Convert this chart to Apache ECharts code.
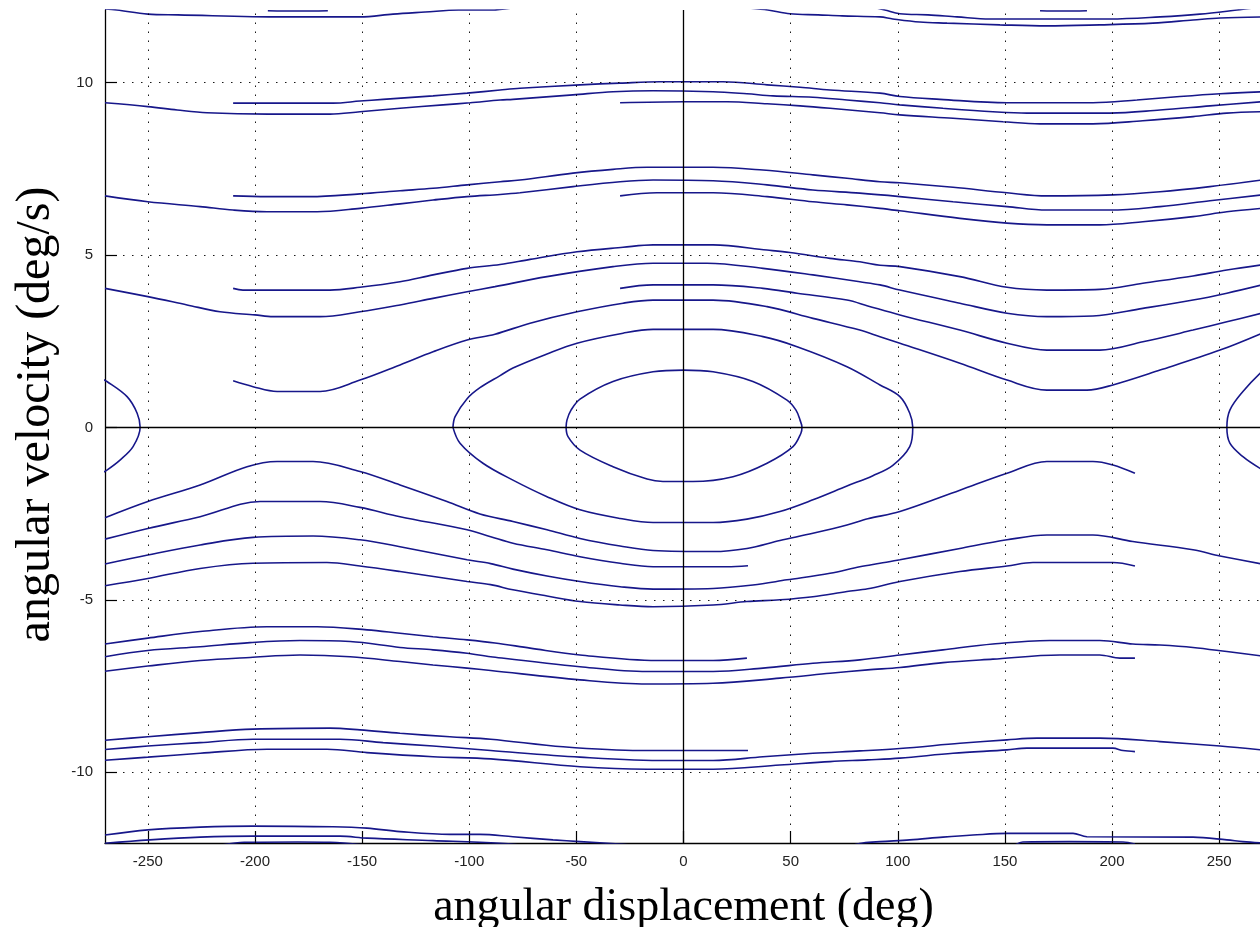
<!DOCTYPE html>
<html>
<head>
<meta charset="utf-8">
<script src="https://cdn.jsdelivr.net/npm/echarts@6/dist/echarts.min.js"></script>
<style>
  html, body { margin: 0; padding: 0; background: #ffffff; }
  #chart { width: 1260px; height: 927px; }
</style>
</head>
<body>
<div id="chart"></div>
<script>
// Pendulum phase portrait: angular displacement (deg) vs angular velocity (deg/s)
const xTicks = [-250, -200, -150, -100, -50, 0, 50, 100, 150, 200, 250];
const yTicks = [-10, -5, 0, 5, 10];

// Rotating trajectories near the top edge
const topEdgeA = [[-270,12.13],[-264.4,12.10],[-250,11.98],[-236,11.96],[-187,11.90],[-151,11.90],[-135.6,11.98],[-120.6,12.04],[-105,12.10],[-89.4,12.10],[-80,12.16]];
const topEdgeB = [[-194,12.08],[-180,12.07],[-166,12.08]];
const topEdgeC = [[30,12.16],[39.4,12.10],[49.7,11.99],[62.8,11.96],[74,11.93],[91.7,11.90],[97.7,11.84],[110.3,11.75],[123,11.72],[147.7,11.67],[169.6,11.64],[194.3,11.67],[219.1,11.72],[237.8,11.81],[250.4,11.87],[270,11.90]];
const topEdgeD = [[90,12.16],[94,12.10],[101,11.99],[114.1,11.96],[127.6,11.90],[143,11.84],[160.3,11.84],[199,11.84],[222.4,11.90],[241,11.98],[258.3,12.10],[266,12.16]];
const topEdgeE = [[166.4,12.08],[177,12.07],[188.3,12.08]];

// Rotating trajectories around +9.5 deg/s
const rot9a = [[-270,9.41],[-250,9.30],[-236.3,9.20],[-222.4,9.12],[-193.9,9.08],[-165,9.08],[-151,9.15],[-132.3,9.25],[-112.2,9.35],[-99.6,9.41],[-85.6,9.49],[-79.6,9.51],[-51.6,9.64],[-32.9,9.73],[-14.2,9.76],[13.8,9.73],[29.6,9.67],[41.8,9.61],[60.4,9.57],[76.3,9.49],[91.7,9.41],[101,9.35],[121.1,9.25],[144.4,9.15],[160.3,9.11],[199,9.11],[222.4,9.20],[245.7,9.32],[270,9.44]];
const rot9b = [[-210.2,9.40],[-163.6,9.40],[-151,9.46],[-140.2,9.51],[-116.9,9.61],[-101,9.69],[-85.6,9.78],[-76.3,9.83],[-48.3,9.93],[-29.6,9.98],[-10.9,10.02],[18.4,10.02],[39,9.93],[54.4,9.86],[68.4,9.78],[91.7,9.69],[101,9.59],[119.7,9.51],[151,9.41],[191.1,9.41],[211.6,9.49],[231.7,9.59],[250.4,9.67],[270,9.73]];
const rot9c = [[-29.6,9.41],[0,9.44],[20.3,9.44],[39,9.38],[54.4,9.32],[68.4,9.25],[91.7,9.12],[101,9.06],[125.8,8.96],[149.1,8.86],[166.4,8.80],[191.1,8.80],[214.4,8.89],[237.8,9.01],[253.6,9.11],[270,9.15]];

// Rotating trajectories around +7 deg/s
const rot7a = [[-270,6.71],[-250,6.54],[-225.6,6.40],[-210.2,6.30],[-194.4,6.25],[-171,6.25],[-151,6.35],[-132.3,6.48],[-116.9,6.59],[-101,6.69],[-85.6,6.75],[-76.3,6.80],[-51.6,6.98],[-29.6,7.12],[-14.2,7.17],[13.8,7.15],[39,7.03],[60.4,6.88],[82.3,6.79],[101,6.69],[125.8,6.54],[151,6.40],[169.6,6.30],[199,6.30],[222.4,6.40],[245.7,6.57],[270,6.74]];
const rot7b = [[-210.2,6.71],[-194.4,6.69],[-174.3,6.69],[-151,6.77],[-132.3,6.86],[-116.9,6.93],[-101,7.03],[-85.6,7.12],[-76.3,7.17],[-51.6,7.37],[-32.9,7.48],[-17,7.54],[13.8,7.54],[37.1,7.46],[60.4,7.32],[76.3,7.22],[91.7,7.12],[101,7.09],[125.8,6.96],[151,6.80],[169.6,6.71],[200.4,6.74],[222.4,6.83],[245.7,6.98],[270,7.17]];
const rot7c = [[-29.6,6.71],[-12.4,6.80],[13.8,6.80],[39,6.69],[60.4,6.54],[76.3,6.45],[91.7,6.35],[101,6.28],[129,6.06],[151,5.92],[169.6,5.87],[194.3,5.87],[214.4,5.96],[237.8,6.11],[253.6,6.25],[270,6.35]];

// Rotating trajectories between +1 and +5.3 deg/s
const rot4a = [[-210.2,4.03],[-205.6,3.98],[-165,3.98],[-151,4.06],[-132.3,4.22],[-116.9,4.42],[-101,4.61],[-85.6,4.72],[-71.6,4.87],[-49.7,5.09],[-28.2,5.22],[-14.2,5.29],[13.8,5.29],[39,5.14],[49.7,5.07],[68.4,4.90],[82.3,4.80],[91.7,4.70],[101,4.66],[129,4.37],[151,4.06],[169.6,3.98],[194.3,4.00],[214.4,4.18],[237.8,4.39],[253.6,4.56],[270,4.71]];
const rot4b = [[-270,4.03],[-250,3.79],[-231.7,3.55],[-216.3,3.35],[-200,3.26],[-191.6,3.21],[-169.6,3.21],[-151,3.35],[-132.3,3.55],[-116.9,3.74],[-101,3.93],[-88,4.08],[-63.7,4.37],[-32.9,4.66],[-14.2,4.76],[11,4.76],[37.1,4.61],[60.4,4.42],[82.3,4.22],[91.7,4.13],[101,3.98],[129,3.60],[151,3.31],[169.6,3.21],[191.1,3.23],[214.4,3.45],[237.8,3.69],[253.6,3.89],[270,4.13]];
const rot4c = [[-29.6,4.03],[-14.2,4.13],[13.8,4.13],[37.1,4.03],[53,3.89],[76.3,3.69],[86,3.52],[101,3.26],[129,2.82],[151,2.44],[169.6,2.24],[194.3,2.24],[214.4,2.48],[237.8,2.82],[253.6,3.06],[270,3.31]];
const rot4d = [[-210.2,1.35],[-200.9,1.18],[-189.7,1.04],[-169.6,1.04],[-151,1.37],[-132.3,1.81],[-116.9,2.19],[-101,2.53],[-88,2.70],[-71.6,3.02],[-49.7,3.35],[-28.2,3.60],[-14.2,3.69],[13.8,3.69],[39,3.50],[60.4,3.16],[82.3,2.82],[91.7,2.63],[101,2.44],[129,1.86],[151,1.37],[169.6,1.08],[188.3,1.08],[200.4,1.23],[222.4,1.66],[250.4,2.24],[270,2.73]];

// Closed (libration) orbits
const orbitInner = [[-54.8,0],[-54.4,0.21],[-52.5,0.50],[-48.3,0.82],[-32.9,1.33],[-14.2,1.61],[0,1.66],[13.8,1.61],[32.4,1.33],[48.3,0.79],[52.5,0.50],[54.4,0.21],[55.3,0],[54.8,-0.17],[51.1,-0.56],[39,-1.04],[23.1,-1.43],[4.4,-1.57],[-9.6,-1.57],[-17,-1.50],[-32.9,-1.14],[-48.3,-0.66],[-53.9,-0.27],[-54.8,0]];
const orbitOuter = [[-107.6,0],[-106.6,0.31],[-101,0.83],[-95,1.15],[-85.6,1.50],[-79.6,1.72],[-64,2.12],[-49.7,2.44],[-28.2,2.73],[-14.2,2.84],[13.8,2.84],[37.1,2.63],[53,2.34],[76.3,1.76],[91.7,1.23],[101,0.89],[105.6,0.41],[107,0],[105.6,-0.56],[97.7,-1.10],[88.4,-1.40],[76.3,-1.70],[60.4,-2.10],[45,-2.44],[29.6,-2.66],[13.8,-2.76],[-14.2,-2.76],[-29.6,-2.64],[-48.3,-2.39],[-63.7,-2.01],[-79.6,-1.53],[-93.6,-1.04],[-104.3,-0.46],[-107.6,0]];
const orbitLeft = [[-272,1.42],[-269.1,1.33],[-259.7,0.89],[-255,0.41],[-253.6,0],[-256.9,-0.56],[-263,-0.95],[-269.1,-1.24],[-272,-1.34]];
const orbitRight = [[272,1.68],[269.1,1.57],[261.1,1.04],[255,0.50],[253.6,0],[255,-0.46],[261.1,-0.85],[269.1,-1.19],[272,-1.26]];

// Rotating trajectories between -1 and -5.2 deg/s
const rotN3a = [[-270,-2.62],[-250,-2.15],[-225.6,-1.67],[-203.7,-1.14],[-189.7,-0.99],[-172.9,-0.99],[-151,-1.28],[-132.3,-1.67],[-110.4,-2.15],[-95,-2.51],[-79.6,-2.73],[-63.7,-2.97],[-48.3,-3.22],[-29.6,-3.44],[-14.2,-3.57],[13.8,-3.60],[29.6,-3.51],[45,-3.28],[60.4,-3.07],[76.3,-2.83],[86,-2.65],[101,-2.44],[129,-1.82],[151,-1.33],[169.6,-0.99],[191.1,-0.99],[200.4,-1.09],[210.7,-1.33]];
const rotN3b = [[-270,-3.24],[-250,-2.93],[-225.6,-2.59],[-197.6,-2.15],[-169.6,-2.15],[-151,-2.32],[-132.3,-2.59],[-101,-2.97],[-90,-3.17],[-79.6,-3.36],[-63.7,-3.55],[-48.3,-3.75],[-29.6,-3.94],[-14.2,-4.04],[20.3,-4.04],[30.1,-4.01]];
const rotN3c = [[-270,-3.96],[-250,-3.70],[-225.6,-3.41],[-200.9,-3.19],[-172.9,-3.15],[-151,-3.26],[-132.3,-3.46],[-101,-3.84],[-90,-3.95],[-79.6,-4.11],[-63.7,-4.31],[-48.3,-4.47],[-29.6,-4.62],[-14.2,-4.69],[13.8,-4.67],[32.4,-4.57],[48.3,-4.42],[68.4,-4.23],[82.3,-4.04],[91.7,-3.94],[101,-3.84],[129,-3.51],[151,-3.26],[169.6,-3.12],[191.1,-3.12],[209.7,-3.31],[237.8,-3.55],[250.4,-3.73],[270,-3.96]];
const rotN3d = [[-270,-4.59],[-250,-4.38],[-225.6,-4.09],[-200.9,-3.94],[-166.4,-3.92],[-151,-4.02],[-132.3,-4.18],[-101,-4.47],[-90,-4.56],[-79.6,-4.71],[-63.7,-4.89],[-48.3,-5.05],[-29.6,-5.15],[-14.2,-5.20],[13.8,-5.15],[29.6,-5.05],[45,-5.00],[60.4,-4.91],[76.3,-4.76],[86,-4.68],[101,-4.47],[129,-4.18],[151,-4.02],[163.1,-3.92],[200.4,-3.92],[210.7,-4.02]];

// Rotating trajectories around -6.5 deg/s
const rotN6a = [[-270,-6.28],[-250,-6.11],[-225.6,-5.92],[-194.4,-5.78],[-171,-5.78],[-147.7,-5.87],[-132.3,-5.97],[-116.9,-6.07],[-101,-6.16],[-88,-6.25],[-71.6,-6.40],[-48.3,-6.60],[-12.4,-6.76],[13.8,-6.76],[29.6,-6.69]];
const rotN6b = [[-270,-6.65],[-250,-6.47],[-225.6,-6.36],[-202.3,-6.24],[-179,-6.18],[-155.6,-6.21],[-132.3,-6.38],[-116.9,-6.45],[-101,-6.55],[-90,-6.65],[-48.3,-6.94],[-17,-7.08],[13.8,-7.08],[37.1,-6.98],[60.4,-6.84],[82.3,-6.74],[101,-6.60],[121.1,-6.45],[144.4,-6.28],[170.9,-6.18],[194.3,-6.18],[209.7,-6.28],[222.4,-6.31],[237.8,-6.38],[253.6,-6.50],[270,-6.63]];
const rotN6c = [[-270,-7.07],[-250,-6.92],[-225.6,-6.76],[-202.3,-6.67],[-179,-6.60],[-155.6,-6.65],[-132.3,-6.79],[-116.9,-6.89],[-101,-6.98],[-90,-7.05],[-48.3,-7.32],[-17,-7.44],[13.8,-7.42],[45,-7.27],[68.4,-7.13],[86,-7.03],[101,-6.96],[121.1,-6.82],[144.4,-6.72],[175.7,-6.60],[194.3,-6.60],[203.7,-6.69],[210.7,-6.69]];

// Rotating trajectories around -9.3 deg/s
const rotN9a = [[-270,-9.07],[-250,-8.97],[-225.6,-8.85],[-200.9,-8.75],[-165,-8.72],[-151,-8.77],[-132.3,-8.87],[-109,-8.97],[-90,-9.04],[-56.2,-9.26],[-20.3,-9.37],[30.1,-9.37]];
const rotN9b = [[-270,-9.34],[-250,-9.24],[-225.6,-9.14],[-200.9,-9.04],[-160.3,-9.04],[-140.2,-9.14],[-116.9,-9.24],[-90,-9.37],[-48.3,-9.56],[-7.7,-9.66],[13.8,-9.66],[37.1,-9.55],[60.4,-9.45],[82.3,-9.38],[101,-9.31],[129,-9.16],[151,-9.06],[165,-9.01],[194.3,-9.01],[222.4,-9.11],[250.4,-9.24],[270,-9.35]];
const rotN9c = [[-270,-9.65],[-250,-9.56],[-225.6,-9.45],[-194.4,-9.33],[-166.4,-9.33],[-147.7,-9.43],[-116.9,-9.55],[-90,-9.61],[-48.3,-9.84],[-17,-9.91],[13.8,-9.91],[45,-9.79],[68.4,-9.69],[86,-9.64],[101,-9.59],[125.8,-9.45],[151,-9.35],[160.3,-9.30],[200.4,-9.30],[205.1,-9.37],[210.7,-9.40]];

// Rotating trajectories near the bottom edge
const botEdgeA = [[-270,-11.82],[-250,-11.67],[-225.6,-11.59],[-200.9,-11.56],[-163.6,-11.58],[-147.7,-11.62],[-132.3,-11.72],[-109,-11.80],[-95,-11.80],[-79.6,-11.87],[-60.9,-11.96],[-48.3,-12.01],[-30,-12.08],[-15,-12.15],[75,-12.15],[83.7,-12.05],[91.7,-12.01],[105.6,-11.96],[121.1,-11.88],[135.1,-11.82],[151,-11.77],[181.8,-11.77],[188.3,-11.87],[237.8,-11.88],[253.6,-11.96],[261.1,-12.01],[270,-12.05]];
const botEdgeB = [[-270,-12.06],[-249.1,-11.96],[-225.6,-11.88],[-200.9,-11.85],[-160.3,-11.85],[-147.7,-11.91],[-116.9,-11.98],[-85.6,-12.06],[-70,-12.15]];
const botEdgeC = [[155,-12.10],[158.4,-12.02],[180,-12.01],[205.1,-12.02],[210.7,-12.08]];
const botEdgeD = [[-215,-12.10],[-205,-12.03],[-180,-12.02],[-165,-12.03],[-150,-12.10]];

const trajectories = [
  topEdgeA, topEdgeB, topEdgeC, topEdgeD, topEdgeE,
  rot9a, rot9b, rot9c,
  rot7a, rot7b, rot7c,
  rot4a, rot4b, rot4c, rot4d,
  orbitInner, orbitOuter, orbitLeft, orbitRight,
  rotN3a, rotN3b, rotN3c, rotN3d,
  rotN6a, rotN6b, rotN6c,
  rotN9a, rotN9b, rotN9c,
  botEdgeA, botEdgeB, botEdgeC, botEdgeD
];

const curveColor = '#17178a';
const dotted = { color: '#000000', width: 1, type: [1.5, 7.5], opacity: 0.9 };

const series = trajectories.map(function (pts) {
  return {
    type: 'line',
    data: pts,
    showSymbol: false,
    symbol: 'none',
    smooth: 0.35,
    clip: true,
    silent: true,
    z: 3,
    lineStyle: { color: curveColor, width: 1.6 }
  };
});

// Dotted grid and solid zero axes
series.push({
  type: 'line',
  data: [],
  silent: true,
  z: 1,
  markLine: {
    silent: true,
    symbol: 'none',
    label: { show: false },
    animation: false,
    data: xTicks.filter(function (v) { return v !== 0; }).map(function (v) {
      return { xAxis: v, lineStyle: dotted };
    }).concat(yTicks.filter(function (v) { return v !== 0; }).map(function (v) {
      return { yAxis: v, lineStyle: dotted };
    }))
  }
});
series.push({
  type: 'line',
  data: [],
  silent: true,
  z: 4,
  markLine: {
    silent: true,
    symbol: 'none',
    label: { show: false },
    animation: false,
    data: [
      { xAxis: 0, lineStyle: { color: '#000000', width: 1.3, type: 'solid' } },
      { yAxis: 0, lineStyle: { color: '#000000', width: 1.3, type: 'solid' } }
    ]
  }
});

const chart = echarts.init(document.getElementById('chart'), null, { renderer: 'canvas' });
chart.setOption({
  animation: false,
  backgroundColor: '#ffffff',
  grid: { left: 105, top: 10, width: 1157, height: 833, containLabel: false, outerBoundsMode: 'none' },
  xAxis: {
    type: 'value',
    min: -270,
    max: 270,
    splitLine: { show: false },
    axisLine: { onZero: false, lineStyle: { color: '#000000', width: 1.3 } },
    axisTick: { inside: true, length: 12, customValues: xTicks, lineStyle: { color: '#000000', width: 1.2 } },
    axisLabel: { customValues: xTicks, fontFamily: 'Liberation Sans', fontSize: 15, color: '#222222', margin: 11 },
    name: 'angular displacement (deg)',
    nameLocation: 'middle',
    nameGap: 42,
    nameTextStyle: { fontFamily: 'Liberation Serif', fontSize: 46, color: '#000000' }
  },
  yAxis: {
    type: 'value',
    min: -12.05,
    max: 12.1,
    splitLine: { show: false },
    axisLine: { onZero: false, lineStyle: { color: '#000000', width: 1.3 } },
    axisTick: { inside: true, length: 12, customValues: yTicks, lineStyle: { color: '#000000', width: 1.2 } },
    axisLabel: { customValues: yTicks, fontFamily: 'Liberation Sans', fontSize: 15, color: '#222222', margin: 12 },
    name: 'angular velocity (deg/s)',
    nameLocation: 'middle',
    nameGap: 39,
    nameRotate: 90,
    nameTextStyle: { fontFamily: 'Liberation Serif', fontSize: 48, color: '#000000', padding: [0, 0, 0, 24] }
  },
  series: series
});
</script>
</body>
</html>
